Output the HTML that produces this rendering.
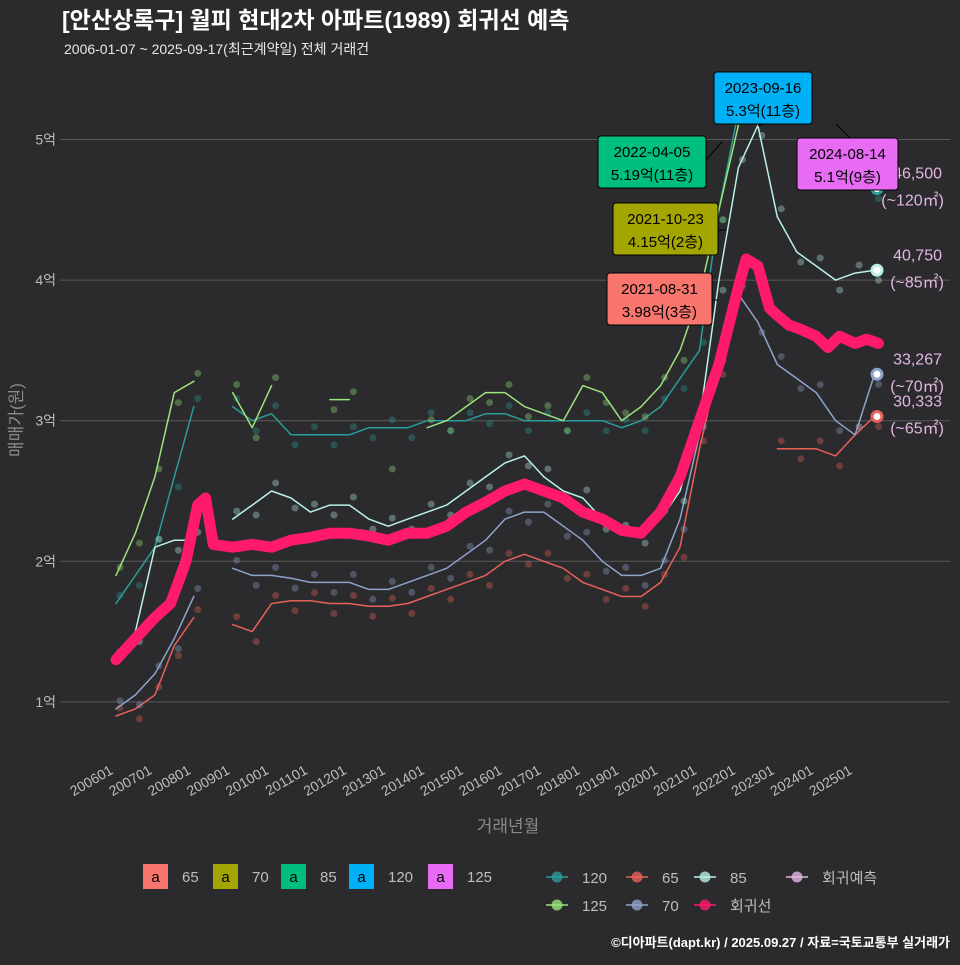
<!DOCTYPE html>
<html><head><meta charset="utf-8">
<style>
html,body{margin:0;padding:0;background:#2b2b2d;}
body{width:960px;height:960px;overflow:hidden;font-family:"Liberation Sans","Noto Sans CJK KR",sans-serif;}
</style></head>
<body>
<svg id="chart" width="960" height="960" xmlns="http://www.w3.org/2000/svg" style="font-family:'Liberation Sans','Noto Sans CJK KR',sans-serif">
<rect x="0" y="0" width="960" height="960" fill="#2b2b2d"/>
<text x="62" y="28" font-size="23" font-weight="bold" fill="#ffffff">[안산상록구] 월피 현대2차 아파트(1989) 회귀선 예측</text>
<text x="64" y="54" font-size="14" fill="#e8e8e8">2006-01-07 ~ 2025-09-17(최근계약일) 전체 거래건</text>
<g id="grid"></g>
<g id="series"></g>
<g id="ann"></g>
<text transform="translate(22,420) rotate(-90)" text-anchor="middle" font-size="17" fill="#8a8a8a">매매가(원)</text>
<text x="508" y="832" text-anchor="middle" font-size="17" fill="#8a8a8a">거래년월</text>
<g id="legend"></g>
<text x="950" y="947" text-anchor="end" font-size="13" font-weight="bold" fill="#ffffff">©디아파트(dapt.kr) / 2025.09.27 / 자료=국토교통부 실거래가</text>
</svg>
<script>
const T = [];
for (let i = 0; i < 40; i++) T.push(2006 + i * 0.5);
const regT = [2006,2006.5,2007,2007.4,2007.8,2008.1,2008.3,2008.5,2009,2009.5,2010,2010.5,2011,2011.5,2012,2012.5,2013,2013.5,2014,2014.5,2015,2015.5,2016,2016.5,2017,2017.5,2018,2018.5,2019,2019.5,2020,2020.5,2021,2021.5,2022,2022.2,2022.5,2022.8,2023,2023.3,2023.6,2024,2024.3,2024.6,2025,2025.3,2025.6];
const regV = [1.3,1.45,1.6,1.7,2.0,2.4,2.45,2.12,2.1,2.12,2.1,2.15,2.17,2.2,2.2,2.18,2.15,2.2,2.2,2.25,2.35,2.42,2.5,2.55,2.5,2.45,2.35,2.3,2.22,2.2,2.35,2.6,3.0,3.4,3.95,4.15,4.1,3.8,3.75,3.68,3.65,3.6,3.52,3.6,3.55,3.58,3.55];
const s85 = [1.3,1.5,2.1,2.15,2.15,null,2.3,2.4,2.5,2.45,2.35,2.4,2.4,2.3,2.25,2.3,2.35,2.4,2.5,2.6,2.7,2.75,2.6,2.5,2.45,2.3,2.2,2.2,2.3,2.5,3.0,4.0,4.8,5.1,4.45,4.2,4.1,4.0,4.05,4.07];
const s70 = [0.95,1.05,1.2,1.45,1.75,null,1.95,1.9,1.9,1.88,1.85,1.85,1.85,1.8,1.8,1.85,1.9,1.95,2.05,2.15,2.3,2.35,2.35,2.25,2.15,2.0,1.9,1.9,1.95,2.3,2.9,3.5,3.9,3.7,3.4,3.3,3.2,3.0,2.9,3.33];
const s65 = [0.9,0.95,1.05,1.4,1.6,null,1.55,1.5,1.7,1.72,1.72,1.7,1.7,1.68,1.68,1.7,1.75,1.8,1.85,1.9,2.0,2.05,2.0,1.95,1.85,1.8,1.75,1.75,1.85,2.1,2.8,3.4,3.95,null,2.8,2.8,2.8,2.75,2.9,3.03];
const s120 = [1.7,1.9,2.1,2.6,3.1,null,3.1,3.0,3.05,2.9,2.9,2.9,2.9,2.95,2.95,2.95,3.0,3.0,3.0,3.05,3.05,3.0,3.0,3.0,3.0,3.0,2.95,3.0,3.1,3.3,3.5,4.5,5.2,5.2,null,null,null,4.9,4.75,4.65];
const s125 = [1.9,2.2,2.6,3.2,3.28,null,3.2,2.95,3.25,null,null,3.15,3.15,null,2.6,null,2.95,3.0,3.1,3.2,3.2,3.1,3.05,3.0,3.25,3.2,3.0,3.1,3.25,3.5,3.9,4.5,5.1,null,null,null,null,5.05,null,null];
const yTicks = [1,2,3,4,5];
const yTickLabels = ["1억","2억","3억","4억","5억"];
const xTickYears = [2006,2007,2008,2009,2010,2011,2012,2013,2014,2015,2016,2017,2018,2019,2020,2021,2022,2023,2024,2025];
const endLabels = [["46,500","(~120㎡)",4.65],["40,750","(~85㎡)",4.07],["33,267","(~70㎡)",3.33],["30,333","(~65㎡)",3.03]];

const NS = "http://www.w3.org/2000/svg";
const xs = t => 116 + (t - 2006) * 38.9;
const ys = v => 842.5 - v * 140.6;
function mk(tag, attrs, parent) {
  const e = document.createElementNS(NS, tag);
  for (const k in attrs) e.setAttribute(k, attrs[k]);
  parent.appendChild(e);
  return e;
}
const grid = document.getElementById('grid');
yTicks.forEach((v, i) => {
  const l = mk('line', {x1: 60, x2: 950, y1: ys(v), y2: ys(v), stroke: '#5a5a5c', 'stroke-width': 1}, grid);
  
  
  const t = mk('text', {x: 56, y: ys(v) + 5, 'text-anchor': 'end', 'font-size': 14, fill: '#bdbdbd'}, grid);
  t.textContent = yTickLabels[i];
  
  
});
xTickYears.forEach(y => {
  const x = xs(y);
  const t = mk('text', {transform: `translate(${x - 2},773) rotate(-30)`, 'text-anchor': 'end', 'font-size': 14, fill: '#bdbdbd'}, grid);
  t.textContent = y + '01';
  
  
});

const ser = document.getElementById('series');
function drawSeries(tArr, vArr, color, width, name, dots) {
  let d = '', pen = false;
  tArr.forEach((t, i) => {
    const v = vArr[i];
    if (v === null || v === undefined) { pen = false; return; }
    d += (pen ? 'L' : 'M') + xs(t).toFixed(1) + ' ' + ys(v).toFixed(1) + ' ';
    pen = true;
    if (dots) {
      const c = mk('circle', {cx: xs(t) + 4, cy: ys(v) + (i % 2 ? 10 : -8), r: 3.5, fill: color, opacity: 0.35}, ser);
      
      
    }
  });
  const p = mk('path', {d: d, fill: 'none', stroke: color, 'stroke-width': width, 'stroke-linejoin': 'round', 'stroke-linecap': 'round'}, ser);
  
  
}
drawSeries(T, s120, '#2a9d9a', 1.5, 'series-120', true);
drawSeries(T, s125, '#9be37a', 1.5, 'series-125', true);
drawSeries(T, s65, '#e8605a', 1.5, 'series-65', true);
drawSeries(T, s70, '#8fa3cc', 1.5, 'series-70', true);
drawSeries(T, s85, '#b9f1e6', 1.5, 'series-85', true);
drawSeries(regT, regV, '#ff1a6c', 11, 'regression', false);

const endColors = ['#2a9d9a', '#b9f1e6', '#8fa3cc', '#e8605a'];
endLabels.forEach((e, i) => {
  const c = mk('circle', {cx: 877, cy: ys(e[2]), r: 6.5, fill: endColors[i]}, ser);
  
  
  const c2 = mk('circle', {cx: 877, cy: ys(e[2]), r: 3.5, fill: '#ffffff'}, ser);
  
  
  const t1 = mk('text', {x: 942, y: ys(e[2]) - 10, 'text-anchor': 'end', 'font-size': 16, fill: '#e3b6e3'}, ser);
  t1.textContent = e[0];
  
  
  const t2 = mk('text', {x: 944, y: ys(e[2]) + 17, 'text-anchor': 'end', 'font-size': 16, fill: '#e3b6e3'}, ser);
  t2.textContent = e[1];
  
  
});

const ann = document.getElementById('ann');
const boxes = [
  [714, 72, 98, '#00b0f6', '2023-09-16', '5.3억(11층)', 763, 124, 758, 126],
  [598, 136, 108, '#00bf7d', '2022-04-05', '5.19억(11층)', 706, 160, 722, 142],
  [797, 138, 101, '#e76bf3', '2024-08-14', '5.1억(9층)', 850, 138, 836, 124],
  [613, 203, 105, '#a3a500', '2021-10-23', '4.15억(2층)', 718, 230, 726, 230],
  [607, 273, 105, '#f8766d', '2021-08-31', '3.98억(3층)', 712, 300, 718, 300]
];
boxes.forEach(b => {
  const l = mk('line', {x1: b[6], y1: b[7], x2: b[8], y2: b[9], stroke: '#000', 'stroke-width': 1}, ann);
  
  
  const r = mk('rect', {x: b[0], y: b[1], width: b[2], height: 52, rx: 3, fill: b[3], stroke: '#000', 'stroke-width': 1}, ann);
  
  
  const t1 = mk('text', {x: b[0] + b[2] / 2, y: b[1] + 21, 'text-anchor': 'middle', 'font-size': 15, fill: '#000'}, ann);
  t1.textContent = b[4];
  
  
  const t2 = mk('text', {x: b[0] + b[2] / 2, y: b[1] + 44, 'text-anchor': 'middle', 'font-size': 15, fill: '#000'}, ann);
  t2.textContent = b[5];
  
  
});

const leg = document.getElementById('legend');
const fillLeg = [['65', '#f8766d', 143], ['70', '#a3a500', 213], ['85', '#00bf7d', 281], ['120', '#00b0f6', 349], ['125', '#e76bf3', 428]];
fillLeg.forEach(f => {
  const r = mk('rect', {x: f[2], y: 864, width: 25, height: 25, fill: f[1]}, leg);
  
  
  const a = mk('text', {x: f[2] + 12.5, y: 882, 'text-anchor': 'middle', 'font-size': 15, fill: '#000'}, leg);
  a.textContent = 'a';
  
  
  const t = mk('text', {x: f[2] + 39, y: 882, 'font-size': 15, fill: '#bdbdbd'}, leg);
  t.textContent = f[0];
  
  
});
const lineLeg = [['120', '#2a9d9a', 557, 877], ['65', '#e8605a', 637, 877], ['85', '#b9f1e6', 705, 877], ['회귀예측', '#e3b6e3', 797, 877], ['125', '#9be37a', 557, 905], ['70', '#8fa3cc', 637, 905], ['회귀선', '#ff1a6c', 705, 905]];
lineLeg.forEach(f => {
  const l = mk('line', {x1: f[2] - 11, x2: f[2] + 11, y1: f[3], y2: f[3], stroke: f[1], 'stroke-width': 1.5}, leg);
  
  
  const c = mk('circle', {cx: f[2], cy: f[3], r: 5.5, fill: f[1], opacity: 0.8}, leg);
  
  
  const t = mk('text', {x: f[2] + 25, y: f[3] + 6, 'font-size': 15, fill: '#bdbdbd'}, leg);
  t.textContent = f[0];
  
  
});
</script>
</body></html>
